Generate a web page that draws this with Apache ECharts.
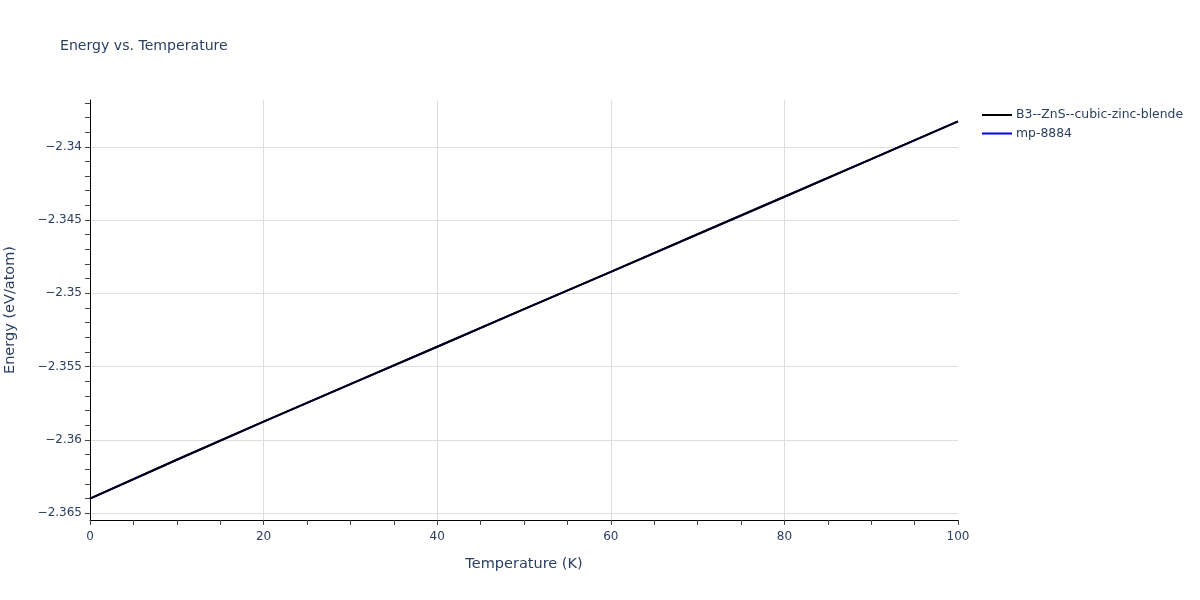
<!DOCTYPE html>
<html>
<head>
<meta charset="utf-8">
<script src="https://cdn.jsdelivr.net/npm/echarts@6/dist/echarts.min.js"></script>
<style>
html,body{margin:0;padding:0;background:#fff;}
#c{width:1200px;height:600px;}
</style>
</head>
<body>
<div id="c"></div>
<script>
// Data
const temperatures = [0, 10, 20, 30, 40, 50, 60, 70, 80, 90, 100];
const energyB3 = [-2.36400, -2.36135, -2.35875, -2.35619, -2.35364, -2.35108, -2.34853, -2.34597, -2.34341, -2.34084, -2.33827];
const energyMp8884 = [-2.36400, -2.36135, -2.35875, -2.35619, -2.35364, -2.35108, -2.34853, -2.34597, -2.34341, -2.34084, -2.33827];
const seriesNames = ['B3--ZnS--cubic-zinc-blende', 'mp-8884'];
const yTickLabels = [-2.365, -2.36, -2.355, -2.35, -2.345, -2.34];
const xTickLabels = [0, 20, 40, 60, 80, 100];

const yMinorTicks = [];
for (let i = 0; i <= 28; i++) yMinorTicks.push(+(-2.365 + i * 0.001).toFixed(3));

const Y_MIN = -2.36546, Y_MAX = -2.33681;
const txt = '#2a3f5f';
const grid = '#dedede';
const font = '"DejaVu Sans", Verdana, sans-serif';
const chart = echarts.init(document.getElementById('c'), null, {renderer: 'canvas'});
const pairs = (xs, ys) => xs.map((x, i) => [x, ys[i]]);

chart.setOption({
  animation: false,
  backgroundColor: '#fff',
  title: {
    text: 'Energy vs. Temperature',
    left: 55, top: 34,
    textStyle: {fontFamily: font, fontSize: 14.1, fontWeight: 'normal', color: txt}
  },
  legend: {
    orient: 'vertical',
    left: 982, top: 109, padding: 0,
    itemWidth: 30, itemHeight: 2, itemGap: 6.5,
    icon: 'rect',
    data: seriesNames,
    textStyle: {fontFamily: font, fontSize: 12.4, color: txt, padding: [0, 0, 0, -1]}
  },
  grid: {left: 90, right: 242, top: 100, bottom: 80, containLabel: false, outerBoundsMode: 'none'},
  xAxis: {
    type: 'value', min: 0, max: 100, interval: 20,
    name: 'Temperature (K)', nameLocation: 'middle', nameGap: 37,
    nameTextStyle: {fontFamily: font, fontSize: 14.5, color: txt},
    axisLine: {show: true, onZero: false, lineStyle: {color: '#000', width: 1}},
    axisTick: {show: true, length: 5, lineStyle: {color: '#444'}},
    minorTick: {show: true, splitNumber: 4, length: 5, lineStyle: {color: '#444'}},
    axisLabel: {fontFamily: font, fontSize: 12, color: txt, margin: 11,
      formatter: v => String(v)},
    splitLine: {show: true, showMinLine: false, showMaxLine: false, lineStyle: {color: grid, width: 1}}
  },
  yAxis: [
    {
      type: 'value', min: Y_MIN, max: Y_MAX,
      name: 'Energy (eV/atom)', nameLocation: 'middle', nameGap: 72,
      nameTextStyle: {fontFamily: font, fontSize: 14.5, color: txt},
      axisLine: {show: true, onZero: false, lineStyle: {color: '#000', width: 1}},
      axisTick: {show: true, customValues: yMinorTicks, length: 5, lineStyle: {color: '#444'}},
      axisLabel: {
        customValues: yTickLabels,
        fontFamily: font, fontSize: 12, color: txt, margin: 8,
        formatter: v => String(+v.toFixed(3)).replace('-', '\u2212')
      },
      splitLine: {show: false}
    },
    {
      type: 'value', min: Y_MIN, max: Y_MAX, splitNumber: 5, position: 'left',
      axisLine: {show: false}, axisTick: {show: false}, axisLabel: {show: false},
      splitLine: {show: true, showMinLine: false, showMaxLine: false, lineStyle: {color: grid, width: 1}}
    }
  ],
  series: [
    {
      name: seriesNames[1], type: 'line', data: pairs(temperatures, energyMp8884),
      symbol: 'none', z: 2, lineStyle: {color: '#0000ff', width: 2}, itemStyle: {color: '#0000ff'}
    },
    {
      name: seriesNames[0], type: 'line', data: pairs(temperatures, energyB3),
      symbol: 'none', z: 3, lineStyle: {color: '#000000', width: 2}, itemStyle: {color: '#000000'}
    }
  ]
});
</script>
</body>
</html>
